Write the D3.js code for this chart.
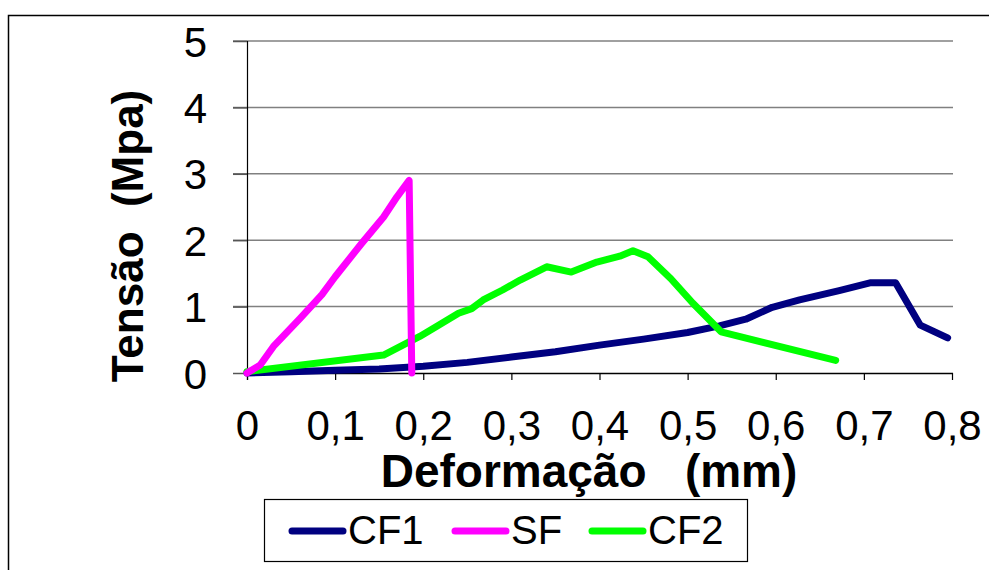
<!DOCTYPE html>
<html>
<head>
<meta charset="utf-8">
<script src="https://cdn.jsdelivr.net/npm/d3@7"></script>
<style>
  html, body { margin: 0; padding: 0; background: #fff; }
  svg { display: block; font-family: Arial, "Liberation Sans", sans-serif; }
</style>
</head>
<body>
<svg id="chart" width="989" height="570"></svg>
<script>
// ---- data ----
const seriesNames = ["CF1", "SF", "CF2"];
const seriesColors = ["#000080", "#FF00FF", "#00FF00"];

const cf1X = [0, 0.05, 0.1, 0.15, 0.2, 0.25, 0.3, 0.35, 0.4, 0.45, 0.5, 0.536, 0.566, 0.596, 0.627, 0.672, 0.708, 0.736, 0.764, 0.795];
const cf1Y = [0, 0.02, 0.04, 0.06, 0.1, 0.16, 0.24, 0.32, 0.42, 0.51, 0.61, 0.71, 0.81, 0.99, 1.1, 1.24, 1.36, 1.36, 0.72, 0.53];

const sfX = [0, 0.015, 0.03, 0.06, 0.085, 0.1, 0.13, 0.155, 0.17, 0.184, 0.187];
const sfY = [0, 0.12, 0.4, 0.82, 1.18, 1.45, 1.95, 2.35, 2.65, 2.9, 0];

const cf2X = [0, 0.155, 0.196, 0.215, 0.24, 0.255, 0.268, 0.29, 0.31, 0.34, 0.368, 0.397, 0.423, 0.438, 0.455, 0.481, 0.506, 0.538, 0.668];
const cf2Y = [0.02, 0.27, 0.55, 0.7, 0.9, 0.97, 1.1, 1.25, 1.4, 1.6, 1.52, 1.67, 1.76, 1.84, 1.75, 1.42, 1.05, 0.62, 0.19];

const xTicks = [0, 0.1, 0.2, 0.3, 0.4, 0.5, 0.6, 0.7, 0.8];
const xTickLabels = ["0", "0,1", "0,2", "0,3", "0,4", "0,5", "0,6", "0,7", "0,8"];
const yTicks = [0, 1, 2, 3, 4, 5];
const yTickLabels = ["0", "1", "2", "3", "4", "5"];

const xTitle = "Deformação   (mm)";
const yTitle = "Tensão  (Mpa)";

// ---- drawing ----
const svg = d3.select("#chart");
const plotLeft = 247, plotRight = 952, plotTop = 41, plotBottom = 373;
const x = d3.scaleLinear().domain([0, 0.8]).range([plotLeft, plotRight]);
const y = d3.scaleLinear().domain([0, 5]).range([plotBottom, plotTop]);

// outer border
svg.append("rect").attr("x", 8.5).attr("y", 15.5).attr("width", 1000).attr("height", 600)
  .attr("fill", "none").attr("stroke", "#000").attr("stroke-width", 1.5);

// gridlines (y)
svg.append("g").selectAll("line").data(yTicks.filter(d => d > 0)).join("line")
  .attr("x1", plotLeft - 14).attr("x2", plotRight + 1)
  .attr("y1", d => y(d)).attr("y2", d => y(d))
  .attr("stroke", "#808080").attr("stroke-width", 1.5);

// y axis
const yAxis = d3.axisLeft(y).tickValues(yTicks).tickSize(14).tickPadding(26)
  .tickFormat((d, i) => yTickLabels[i]);
const gy = svg.append("g").attr("transform", `translate(${plotLeft},0)`).call(yAxis);
gy.select(".domain").attr("stroke", "#000").attr("stroke-width", 1.2).attr("d", `M0.5,${plotTop}V${plotBottom + 7}`);
gy.selectAll(".tick line").attr("stroke", "#555").attr("stroke-width", 1.5);
gy.selectAll(".tick text").attr("font-size", 42).attr("fill", "#000")
  .attr("font-family", "Arial, 'Liberation Sans', sans-serif").attr("dy", "0.36em");

// x axis
const xAxis = d3.axisBottom(x).tickValues(xTicks).tickSize(7).tickPadding(30)
  .tickFormat((d, i) => xTickLabels[i]);
const gx = svg.append("g").attr("transform", `translate(0,${plotBottom})`).call(xAxis);
gx.select(".domain").attr("stroke", "#000").attr("stroke-width", 1.5).attr("d", `M${plotLeft},0.5H${plotRight + 1}`);
gx.selectAll(".tick line").attr("stroke", "#000").attr("stroke-width", 1.2);
gx.selectAll(".tick text").attr("font-size", 42).attr("fill", "#000")
  .attr("font-family", "Arial, 'Liberation Sans', sans-serif").attr("dy", "0.71em");

// series
const series = [
  { name: seriesNames[0], color: seriesColors[0], xs: cf1X, ys: cf1Y },
  { name: seriesNames[2], color: seriesColors[2], xs: cf2X, ys: cf2Y },
  { name: seriesNames[1], color: seriesColors[1], xs: sfX, ys: sfY }
];
const line = d3.line().x(d => x(d[0])).y(d => y(d[1]));
svg.append("g").selectAll("path").data(series).join("path")
  .attr("d", s => line(s.xs.map((v, i) => [v, s.ys[i]])))
  .attr("fill", "none").attr("stroke", s => s.color).attr("stroke-width", 7)
  .attr("stroke-linejoin", "round").attr("stroke-linecap", "round");

// axis titles
svg.append("text").attr("x", 589).attr("y", 487).attr("text-anchor", "middle")
  .attr("font-size", 46).attr("font-weight", "bold").attr("xml:space", "preserve")
  .style("white-space", "pre").text(xTitle);
svg.append("text").attr("transform", "translate(143,236) rotate(-90)").attr("text-anchor", "middle")
  .attr("font-size", 44).attr("font-weight", "bold").attr("xml:space", "preserve")
  .style("white-space", "pre").text(yTitle);

// legend
const lg = svg.append("g");
lg.append("rect").attr("x", 264.5).attr("y", 499.5).attr("width", 483).attr("height", 62)
  .attr("fill", "#fff").attr("stroke", "#000").attr("stroke-width", 1.2);
const legendX = [290, 453, 590];
seriesNames.forEach((n, i) => {
  lg.append("line").attr("x1", legendX[i] + 2).attr("x2", legendX[i] + 53)
    .attr("y1", 531).attr("y2", 531).attr("stroke", seriesColors[i])
    .attr("stroke-width", 7).attr("stroke-linecap", "round");
  lg.append("text").attr("x", legendX[i] + 58).attr("y", 544).attr("font-size", 40)
    .attr("fill", "#000").text(n);
});
</script>
</body>
</html>
